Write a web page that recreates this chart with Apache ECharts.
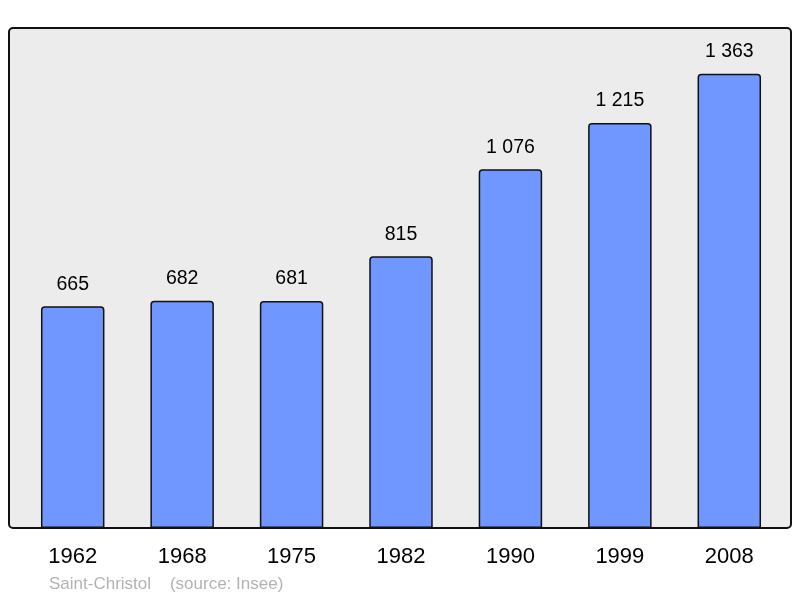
<!DOCTYPE html>
<html><head><meta charset="utf-8">
<script src="https://cdn.jsdelivr.net/npm/echarts@6/dist/echarts.min.js"></script>
<style>html,body{margin:0;padding:0;background:#fff}#c{width:800px;height:598px}</style>
</head><body><div id="c"></div>
<script>
const categories = ['1962','1968','1975','1982','1990','1999','2008'];
const population = [665, 682, 681, 815, 1076, 1215, 1363];
const title = 'Saint-Christol    (source: Insee)';

function fmt(v){ return String(v).replace(/\B(?=(\d{3})+(?!\d))/g, ' '); }

const chart = echarts.init(document.getElementById('c'), null, {renderer:'canvas'});
chart.setOption({
  animation:false,
  backgroundColor:'#ffffff',
  graphic:[
    {type:'rect', z:-10, shape:{x:9, y:28, width:782, height:500, r:4},
     style:{fill:'#ececec', stroke:'#111', lineWidth:2}},
    {type:'text', left:49, top:576, style:{text:title, fill:'#b3b3b3', font:'17px "Liberation Sans", Arial, sans-serif'}}
  ],
  grid:{left:18, top:28, width:766, height:500, containLabel:false},
  xAxis:{type:'category', data:categories,
    axisLine:{show:false}, axisTick:{show:false},
    axisLabel:{color:'#000', fontSize:22, fontFamily:'"Liberation Sans", Arial, sans-serif', margin:18}},
  yAxis:{type:'value', min:0, max:1500, show:false, splitLine:{show:false}},
  series:[{type:'bar', data:population, barWidth:'58%',
    itemStyle:{color:'#6f97ff', borderColor:'#111', borderWidth:1.5, borderRadius:[3,3,0,0]},
    label:{show:true, position:'top', distance:12, color:'#000', fontSize:19.5,
      fontFamily:'"Liberation Sans", Arial, sans-serif', formatter:p=>fmt(p.value)}}]
});
</script></body></html>
